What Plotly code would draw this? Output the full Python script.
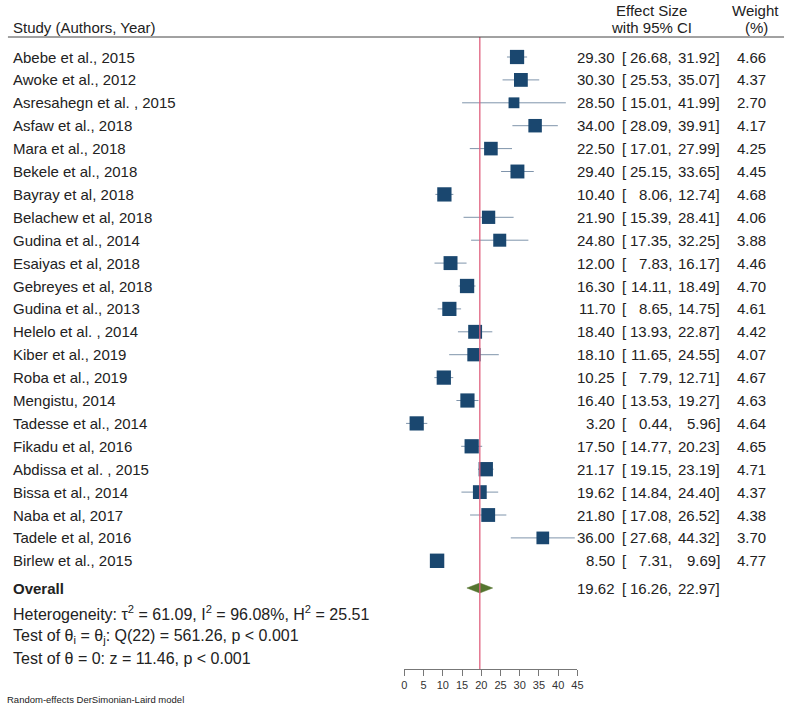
import plotly.graph_objects as go

W, H = 793, 707
_TEXT = "#222222"
_NAVY = "#1a476f"
_CI = "#7f94ab"
_RED = "#e0607e"
_GREEN = "#55752f"
_FONT = "Liberation Sans, Arial, sans-serif"

studies = [
    "Abebe et al., 2015", "Awoke et al., 2012", "Asresahegn et al. , 2015",
    "Asfaw et al., 2018", "Mara et al., 2018", "Bekele et al., 2018",
    "Bayray et al, 2018", "Belachew et al, 2018", "Gudina et al., 2014",
    "Esaiyas et al, 2018", "Gebreyes et al, 2018", "Gudina et al., 2013",
    "Helelo et al. , 2014", "Kiber et al., 2019", "Roba et al., 2019",
    "Mengistu, 2014", "Tadesse et al., 2014", "Fikadu et al, 2016",
    "Abdissa et al. , 2015", "Bissa et al., 2014", "Naba et al, 2017",
    "Tadele et al, 2016", "Birlew et al., 2015",
]
est = [29.30, 30.30, 28.50, 34.00, 22.50, 29.40, 10.40, 21.90, 24.80, 12.00,
       16.30, 11.70, 18.40, 18.10, 10.25, 16.40, 3.20, 17.50, 21.17, 19.62,
       21.80, 36.00, 8.50]
lo = [26.68, 25.53, 15.01, 28.09, 17.01, 25.15, 8.06, 15.39, 17.35, 7.83,
      14.11, 8.65, 13.93, 11.65, 7.79, 13.53, 0.44, 14.77, 19.15, 14.84,
      17.08, 27.68, 7.31]
hi = [31.92, 35.07, 41.99, 39.91, 27.99, 33.65, 12.74, 28.41, 32.25, 16.17,
      18.49, 14.75, 22.87, 24.55, 12.71, 19.27, 5.96, 20.23, 23.19, 24.40,
      26.52, 44.32, 9.69]
weight = [4.66, 4.37, 2.70, 4.17, 4.25, 4.45, 4.68, 4.06, 3.88, 4.46, 4.70,
          4.61, 4.42, 4.07, 4.67, 4.63, 4.64, 4.65, 4.71, 4.37, 4.38, 3.70,
          4.77]
overall_est, overall_lo, overall_hi = 19.62, 16.26, 22.97
x_ticks = [0, 5, 10, 15, 20, 25, 30, 35, 40, 45]

# pixel geometry (rows in data units, one row = 22.9 px, first row at 57 px)
ROW0, ROWH, AXIS_PX = 57, 22.9, 669


def row_of(px):
    return (px - ROW0) / ROWH


rows = list(range(len(studies)))
r_overall = row_of(588)

fig = go.Figure()

# confidence intervals
cx, cy = [], []
for r, a, b in zip(rows, lo, hi):
    cx += [a, b, None]
    cy += [r, r, None]
fig.add_trace(go.Scatter(x=cx, y=cy, mode="lines",
                         line=dict(color=_CI, width=1), hoverinfo="skip",
                         cliponaxis=False))

# study squares, size ~ sqrt(weight)
fig.add_trace(go.Scatter(
    x=est, y=rows, mode="markers", cliponaxis=False,
    marker=dict(symbol="square", color=_NAVY, opacity=1,
                size=[6.6 * w ** 0.5 for w in weight], line=dict(width=0)),
    text=studies, hovertemplate="%{text}: %{x}<extra></extra>",
))

# overall diamond
dh = 5 / ROWH
fig.add_trace(go.Scatter(
    x=[overall_lo, overall_est, overall_hi, overall_est, overall_lo],
    y=[r_overall, r_overall - dh, r_overall, r_overall + dh, r_overall],
    mode="lines", fill="toself", fillcolor=_GREEN,
    line=dict(color=_GREEN, width=0.5), hoverinfo="skip", cliponaxis=False,
))

# overall line
fig.add_shape(type="line", x0=overall_est, x1=overall_est,
              y0=row_of(37), y1=row_of(AXIS_PX), xref="x", yref="y",
              line=dict(color=_RED, width=1.3))
# header separator
fig.add_shape(type="line", x0=5 / W, x1=790 / W, y0=row_of(37), y1=row_of(37),
              xref="paper", yref="y", line=dict(color="#444444", width=1))


def ann(text, xpx, y, anchor="left", size=15, yref="y"):
    fig.add_annotation(text=text, x=xpx / W, y=y, xref="paper", yref=yref,
                       xanchor=anchor, yanchor="middle", showarrow=False,
                       font=dict(size=size, color=_TEXT, family=_FONT))


# headers
ann("Study (Authors, Year)", 8, row_of(27))
ann("Effect Size", 656, row_of(10), "center")
ann("with 95% CI", 656, row_of(27), "center")
ann("Weight", 761, row_of(10), "center")
ann("(%)", 762, row_of(27), "center")


def value_cols(r, e, a, b):
    ann(f"{e:.2f}", 621, r, "right")
    ann("[", 624, r, "left")
    ann(f"{a:.2f},", 679, r, "right")
    ann(f"{b:.2f}]", 727, r, "right")


for r, s, e, a, b, w in zip(rows, studies, est, lo, hi, weight):
    ann(s, 8, r)
    value_cols(r, e, a, b)
    ann(f"{w:.2f}", 774, r, "right")

ann("<b>Overall</b>", 8, r_overall)
value_cols(r_overall, overall_est, overall_lo, overall_hi)
ann("Heterogeneity: τ<sup>2</sup> = 61.09, I<sup>2</sup> = 96.08%, "
    "H<sup>2</sup> = 25.51", 8, row_of(613), size=16)
ann("Test of θ<sub>i</sub> = θ<sub>j</sub>: Q(22) = 561.26, p &lt; 0.001",
    8, row_of(636), size=16)
ann("Test of θ = 0: z = 11.46, p &lt; 0.001", 8, row_of(658), size=16)
ann("Random-effects DerSimonian-Laird model", 2, 1 - 699 / H, size=9.5,
    yref="paper")

fig.update_layout(
    width=W, height=H, showlegend=False,
    paper_bgcolor="#ffffff", plot_bgcolor="#ffffff",
    margin=dict(l=0, r=0, t=0, b=0),
    font=dict(family=_FONT, color=_TEXT),
    xaxis=dict(domain=[406 / W, 581 / W], range=[0, 45], tickvals=x_ticks,
               showgrid=False, zeroline=False, showline=True,
               linecolor="#777777", linewidth=1, ticks="outside", ticklen=6,
               tickcolor="#777777", tickfont=dict(size=11, color="#333333"),
               fixedrange=True),
    yaxis=dict(domain=[(H - AXIS_PX) / H, 1],
               range=[row_of(AXIS_PX), row_of(0)], visible=False,
               fixedrange=True),
)

# page body has a default 8px margin; drop it so the figure fills the window
fig.write_html("out.html", config={"displayModeBar": False},
               post_script="document.body.style.margin='0';")
